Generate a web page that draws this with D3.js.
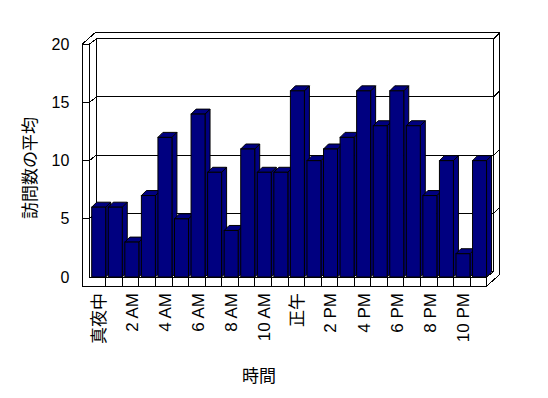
<!DOCTYPE html>
<html>
<head>
<meta charset="utf-8">
<script src="https://cdn.jsdelivr.net/npm/d3@7"></script>
<style>
  body { margin: 0; background: #fff; }
  svg { display: block; font-family: "Liberation Sans", "Noto Sans CJK JP", sans-serif; }
  text { fill: #000; }
  .frame path { fill: none; stroke: #000; stroke-width: 1; }
</style>
</head>
<body>
<svg width="548" height="398"></svg>
<script>
// data -----------------------------------------
var hours = ["真夜中","1 AM","2 AM","3 AM","4 AM","5 AM","6 AM","7 AM","8 AM","9 AM","10 AM","11 AM",
             "正午","1 PM","2 PM","3 PM","4 PM","5 PM","6 PM","7 PM","8 PM","9 PM","10 PM","11 PM"];
var visits = [6,6,3,7,12,5,14,9,4,11,9,9,16,10,11,12,16,13,16,13,7,10,2,10];
var yTicks = [0,5,10,15,20];
var xTitle = "時間";
var yTitle = "訪問数の平均";

// layout (front plane of the 3d box) ------------
var svg = d3.select("svg");
var xOuter = 82, xLeft = 89.3, xRight = 486.7;
var yBase = 277, yFloor = 286;
var d1 = [7, -5.5];   // depth to back wall (inner face)
var d2 = [13, -11.5]; // depth to back wall (outer face)
var barDepth = 5;

var x = d3.scaleBand().domain(d3.range(hours.length)).range([xLeft, xRight]).padding(0);
var y = d3.scaleLinear().domain([0, 20]).range([yBase, 44.3]);

var frame = svg.append("g").attr("class", "frame").attr("shape-rendering", "crispEdges");
var yTop = y(20);

// back wall + left wall + right side
frame.append("path").attr("d",
  "M" + xOuter + "," + yTop + "L" + (xOuter + d2[0]) + "," + (yTop + d2[1]) +
  "H" + (xRight + d2[0]) + "V" + (yFloor + d2[1]) + "L" + xRight + "," + yFloor);
frame.append("path").attr("d",
  "M" + xLeft + "," + yTop + "L" + (xLeft + d1[0]) + "," + (yTop + d1[1]) +
  "H" + (xRight + d1[0]) + "V" + (yBase + d1[1]) + "L" + xRight + "," + yBase);
frame.append("path").attr("d",
  "M" + (xRight + d1[0]) + "," + (yTop + d1[1]) + "L" + (xRight + d2[0]) + "," + (yTop + d2[1]));
frame.append("path").attr("d",
  "M" + (xLeft + d1[0]) + "," + (yTop + d1[1]) + "V" + (yBase + d1[1]) + "H" + (xRight + d1[0]));

// gridlines running over the walls
frame.selectAll("path.grid").data(yTicks.filter(function(t){ return t > 0 && t < 20; }))
  .enter().append("path").attr("class", "grid")
  .attr("d", function(t){
    var yf = y(t);
    return "M" + xOuter + "," + yf + "H" + xLeft +
      "L" + (xLeft + d1[0]) + "," + (yf + d1[1]) +
      "H" + (xRight + d1[0]) +
      "L" + (xRight + d2[0]) + "," + (yf + d2[1]);
  });

// left wall front face + floor front face
frame.append("path").attr("d",
  "M" + xOuter + "," + yTop + "H" + xLeft + "V" + yBase + "H" + xRight + "V" + yFloor +
  "H" + xOuter + "Z");

// bars
var bars = svg.append("g").selectAll("g").data(visits).enter().append("g")
  .attr("stroke", "#000").attr("stroke-width", 1).attr("fill", "#000080")
  .attr("stroke-linejoin", "miter");
var bw = function(){ return x.bandwidth() * 0.845; };
var bx = function(i){ return x(i) + x.bandwidth() * 0.145; };

bars.append("path").attr("d", function(d, i){
  var x0 = bx(i), x1 = x0 + bw(), yv = y(d);
  return "M" + x1 + "," + yv + "L" + (x1 + barDepth) + "," + (yv - barDepth) +
    "V" + (yBase - barDepth) + "L" + x1 + "," + yBase + "Z";
});
bars.append("path").attr("d", function(d, i){
  var x0 = bx(i), x1 = x0 + bw(), yv = y(d);
  return "M" + x0 + "," + yv + "L" + (x0 + barDepth) + "," + (yv - barDepth) +
    "H" + (x1 + barDepth) + "L" + x1 + "," + yv + "Z";
});
bars.append("rect")
  .attr("x", function(d, i){ return bx(i); })
  .attr("y", function(d){ return y(d); })
  .attr("width", bw())
  .attr("height", function(d){ return yBase - y(d); });

// floor dividers
svg.append("g").attr("class", "frame").attr("shape-rendering", "crispEdges")
  .selectAll("path").data(d3.range(1, hours.length)).enter().append("path")
  .attr("d", function(i){ return "M" + x(i) + "," + yBase + "V" + yFloor; });

// y axis labels
var yAxis = d3.axisLeft(y).tickValues(yTicks).tickSize(0).tickPadding(12.7);
var ya = svg.append("g").attr("transform", "translate(" + xOuter + ",0)").call(yAxis)
  .attr("font-family", null).attr("font-size", 16);
ya.select(".domain").remove();
ya.selectAll("text").attr("fill", "#000");

// x axis labels (every second hour)
svg.append("g").selectAll("text")
  .data(hours.map(function(h, i){ return {name: h, i: i}; }).filter(function(d){ return d.i % 2 == 0; }))
  .enter().append("text")
  .attr("transform", function(d){
    return "translate(" + (bx(d.i) + bw() / 2) + ",293) rotate(-90)";
  })
  .attr("text-anchor", "end")
  .attr("dy", "0.35em")
  .attr("font-size", 17)
  .attr("fill", "#000")
  .text(function(d){ return d.name; });

// titles
svg.append("text").attr("x", 259).attr("y", 376).attr("dy", "0.35em")
  .attr("text-anchor", "middle").attr("font-size", 17).text(xTitle);
svg.append("text").attr("transform", "translate(30.5,168) rotate(-90)")
  .attr("dy", "0.35em").attr("text-anchor", "middle").attr("font-size", 17).text(yTitle);
</script>
</body>
</html>
